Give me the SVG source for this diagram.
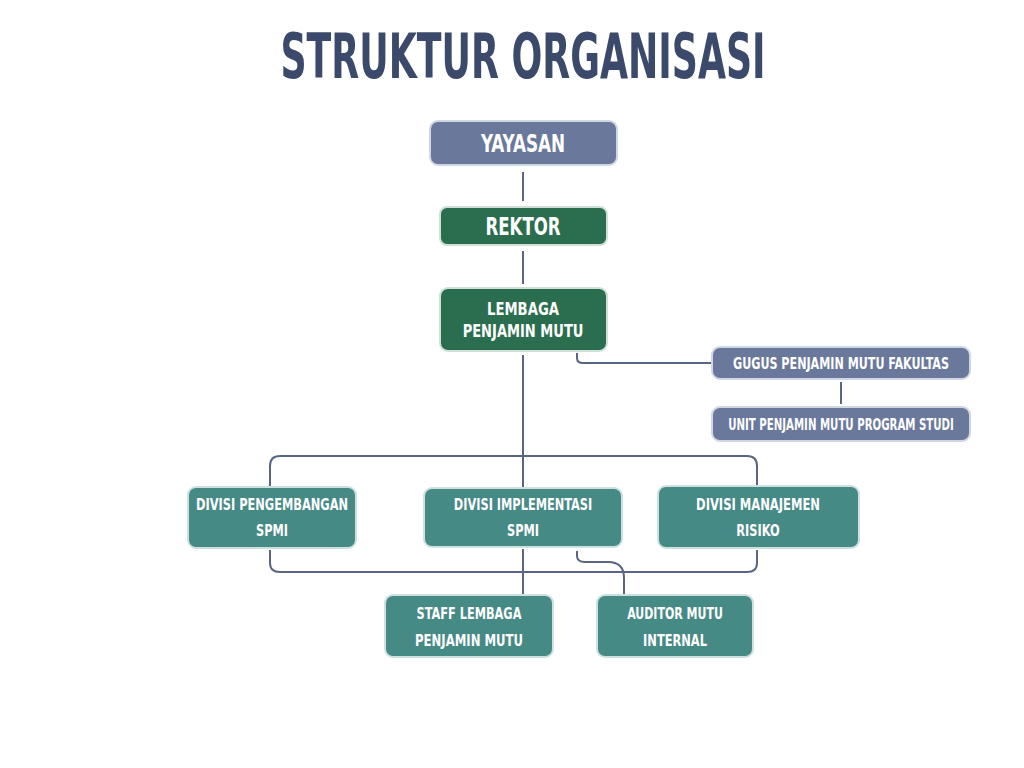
<svg xmlns="http://www.w3.org/2000/svg" width="1024" height="768" viewBox="0 0 1024 768">
<style>
.t{font-family:"DejaVu Sans Condensed","Liberation Sans Narrow","Liberation Sans",sans-serif;font-weight:bold;fill:#ffffff;text-anchor:middle}
.title{font-family:"DejaVu Sans Condensed","Liberation Sans Narrow","Liberation Sans",sans-serif;font-weight:bold;fill:#3b4a6b;text-anchor:middle}
.slate{fill:#6a789c;stroke:#cfd8e2;stroke-width:2}
.green{fill:#2b6e4f;stroke:#cfe0d8;stroke-width:2}
.teal{fill:#468a86;stroke:#cfe0e0;stroke-width:2}
.c{fill:none;stroke:#5a6585;stroke-width:2}
</style>
<rect width="1024" height="768" fill="#ffffff"/>
<g id="title" transform="translate(523,78) scale(0.66,1)"><text class="title" x="0" y="0" font-size="62" textLength="735" lengthAdjust="spacingAndGlyphs">STRUKTUR ORGANISASI</text></g>
<g id="connectors">
<path class="c" d="M523,172 V201"/>
<path class="c" d="M523,251 V284"/>
<path class="c" d="M577,353 V358 Q577,363 583,363 H712"/>
<path class="c" d="M841,382 V404"/>
<path class="c" d="M523,355 V487"/>
<path class="c" d="M270,486 V466 Q270,456 280,456 H747 Q757,456 757,466 V486"/>
<path class="c" d="M270,550 V563 Q270,572 280,572 H747 Q757,572 757,563 V550"/>
<path class="c" d="M523,549 V594"/>
<path class="c" d="M577,551 V556 Q577,562 585,562 H608 Q624,562 624,578 V595"/>
</g>
<g id="yayasan"><rect class="slate" x="430" y="121" width="187" height="44" rx="8"/><g transform="translate(523,152) scale(0.75,1)"><text class="t" x="0" y="0" font-size="25" textLength="112" lengthAdjust="spacingAndGlyphs">YAYASAN</text></g></g>
<g id="rektor"><rect class="green" x="440" y="207" width="167" height="38" rx="7"/><g transform="translate(523,235) scale(0.75,1)"><text class="t" x="0" y="0" font-size="24" textLength="100" lengthAdjust="spacingAndGlyphs">REKTOR</text></g></g>
<g id="lpm"><rect class="green" x="440" y="288" width="167" height="63" rx="8"/><g transform="translate(523,315) scale(0.75,1)"><text class="t" x="0" y="0" font-size="18" textLength="96" lengthAdjust="spacingAndGlyphs">LEMBAGA</text></g><g transform="translate(523,337) scale(0.75,1)"><text class="t" x="0" y="0" font-size="18" textLength="161" lengthAdjust="spacingAndGlyphs">PENJAMIN MUTU</text></g></g>
<g id="gugus"><rect class="slate" x="712" y="347" width="258" height="32" rx="8"/><g transform="translate(841,369) scale(0.76,1)"><text class="t" x="0" y="0" font-size="16" textLength="284" lengthAdjust="spacingAndGlyphs">GUGUS PENJAMIN MUTU FAKULTAS</text></g></g>
<g id="unit"><rect class="slate" x="712" y="407" width="258" height="34" rx="8"/><g transform="translate(841,430) scale(0.76,1)"><text class="t" x="0" y="0" font-size="16" textLength="297" lengthAdjust="spacingAndGlyphs">UNIT PENJAMIN MUTU PROGRAM STUDI</text></g></g>
<g id="divisi-pengembangan"><rect class="teal" x="188" y="487" width="168" height="61" rx="8"/><g transform="translate(272,510) scale(0.76,1)"><text class="t" x="0" y="0" font-size="16" textLength="200" lengthAdjust="spacingAndGlyphs">DIVISI PENGEMBANGAN</text></g><g transform="translate(272,536) scale(0.76,1)"><text class="t" x="0" y="0" font-size="16" textLength="42" lengthAdjust="spacingAndGlyphs">SPMI</text></g></g>
<g id="divisi-implementasi"><rect class="teal" x="424" y="488" width="198" height="59" rx="8"/><g transform="translate(523,510) scale(0.76,1)"><text class="t" x="0" y="0" font-size="16" textLength="182" lengthAdjust="spacingAndGlyphs">DIVISI IMPLEMENTASI</text></g><g transform="translate(523,536) scale(0.76,1)"><text class="t" x="0" y="0" font-size="16" textLength="42" lengthAdjust="spacingAndGlyphs">SPMI</text></g></g>
<g id="divisi-manajemen"><rect class="teal" x="658" y="486" width="201" height="62" rx="8"/><g transform="translate(758,510) scale(0.76,1)"><text class="t" x="0" y="0" font-size="16" textLength="163" lengthAdjust="spacingAndGlyphs">DIVISI MANAJEMEN</text></g><g transform="translate(758,536) scale(0.76,1)"><text class="t" x="0" y="0" font-size="16" textLength="57" lengthAdjust="spacingAndGlyphs">RISIKO</text></g></g>
<g id="staff"><rect class="teal" x="385" y="595" width="168" height="62" rx="8"/><g transform="translate(469,619) scale(0.76,1)"><text class="t" x="0" y="0" font-size="16" textLength="138" lengthAdjust="spacingAndGlyphs">STAFF LEMBAGA</text></g><g transform="translate(469,646) scale(0.76,1)"><text class="t" x="0" y="0" font-size="16" textLength="142" lengthAdjust="spacingAndGlyphs">PENJAMIN MUTU</text></g></g>
<g id="auditor"><rect class="teal" x="597" y="595" width="156" height="62" rx="8"/><g transform="translate(675,619) scale(0.76,1)"><text class="t" x="0" y="0" font-size="16" textLength="126" lengthAdjust="spacingAndGlyphs">AUDITOR MUTU</text></g><g transform="translate(675,646) scale(0.76,1)"><text class="t" x="0" y="0" font-size="16" textLength="84" lengthAdjust="spacingAndGlyphs">INTERNAL</text></g></g>
</svg>
